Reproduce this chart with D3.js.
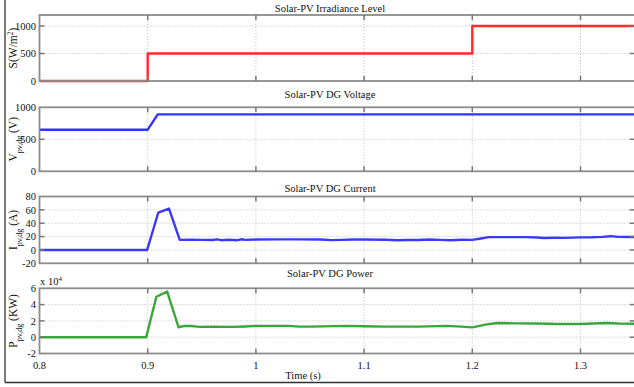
<!DOCTYPE html>
<html><head><meta charset="utf-8">
<script src="https://cdn.jsdelivr.net/npm/d3@7"></script>
<style>
html,body{margin:0;padding:0;background:#fff;}
svg{display:block;font-family:"Liberation Serif","Times New Roman",serif;}
</style></head>
<body>
<svg id="c" width="634" height="387"></svg>
<script>
// ---- Data ----
const xTicks = [0.8, 0.9, 1.0, 1.1, 1.2, 1.3];
const xTickLabels = ["0.8", "0.9", "1", "1.1", "1.2", "1.3"];

const irrTime = [0.8, 0.9, 0.9, 1.2, 1.2, 1.35];
const irrValue = [0, 0, 500, 500, 1000, 1000];
const irrTicks = [0, 500, 1000];

const voltTime = [0.8, 0.9, 0.9093, 1.35];
const voltValue = [650, 650, 890, 890];
const voltTicks = [0, 500, 1000];

const curTime = [0.8, 0.8995, 0.9098, 0.9197, 0.9296, 0.94, 0.95, 0.96, 0.964, 0.968, 0.975, 0.983, 0.987, 0.99, 1.0, 1.02, 1.04, 1.06, 1.07, 1.08, 1.09, 1.1, 1.12, 1.13, 1.14, 1.15, 1.16, 1.17, 1.18, 1.19, 1.2, 1.208, 1.215, 1.23, 1.25, 1.26, 1.266, 1.275, 1.285, 1.3, 1.31, 1.32, 1.328, 1.335, 1.35];
const curValue = [0, 0, 56, 62, 15, 15.3, 15, 14.8, 15.8, 14.6, 15.2, 14.6, 16, 15, 15.6, 15.8, 15.8, 15.6, 14.7, 15, 15.6, 15.6, 15.3, 14.6, 14.8, 14.8, 15.6, 15, 14.5, 15.2, 15, 17.2, 19.2, 19.2, 19.2, 18.6, 17.8, 18.2, 18, 18.8, 19, 19.6, 20.6, 19.6, 19.4];
const curTicks = [-20, 0, 20, 40, 60, 80];

const powTime = [0.8, 0.8986, 0.908, 0.918, 0.9285, 0.934, 0.94, 0.948, 0.96, 0.979, 0.99, 1.0, 1.031, 1.04, 1.05, 1.084, 1.1, 1.12, 1.15, 1.177, 1.19, 1.2, 1.212, 1.223, 1.24, 1.26, 1.28, 1.3, 1.324, 1.335, 1.35];
const powValue = [0, 0, 4.96, 5.6, 1.22, 1.39, 1.38, 1.27, 1.28, 1.27, 1.32, 1.39, 1.39, 1.3, 1.3, 1.39, 1.35, 1.3, 1.3, 1.39, 1.3, 1.2, 1.55, 1.75, 1.7, 1.68, 1.62, 1.62, 1.75, 1.68, 1.65];
const powTicks = [-2, 0, 2, 4, 6];

const titles = ["Solar-PV Irradiance Level", "Solar-PV DG Voltage", "Solar-PV DG Current", "Solar-PV DG Power"];
const colors = ["#ff2a2a", "#3333ff", "#3a3aff", "#3aa63a"];

// ---- Layout ----
const svg = d3.select("#c");
const W = 634, H = 387;
const x = d3.scaleLinear().domain([0.8, 1.35]).range([39.5, 634.6]);

const panels = [
  {t: irrTime, v: irrValue, ticks: irrTicks, dom: [0, 1200], top: 15, bot: 81, title: titles[0], color: colors[0], tb: 11.5, lab: "S"},
  {t: voltTime, v: voltValue, ticks: voltTicks, dom: [0, 1000], top: 107.3, bot: 171.3, title: titles[1], color: colors[1], tb: 98, lab: "V"},
  {t: curTime, v: curValue, ticks: curTicks, dom: [-20, 80], top: 196.5, bot: 263.3, title: titles[2], color: colors[2], tb: 192, lab: "I"},
  {t: powTime, v: powValue, ticks: powTicks, dom: [-2, 6], top: 288.3, bot: 353.5, title: titles[3], color: colors[3], tb: 277, lab: "P"}
];

// outer frame
svg.append("line").attr("x1", 5).attr("x2", 5).attr("y1", 0).attr("y2", 382.5).attr("stroke", "#333").attr("stroke-width", 1.3);
svg.append("line").attr("x1", 5).attr("x2", W).attr("y1", 382.5).attr("y2", 382.5).attr("stroke", "#333").attr("stroke-width", 1.3);

panels.forEach((p, i) => {
  const y = d3.scaleLinear().domain(p.dom).range([p.bot, p.top]);
  const g = svg.append("g");
  const x0 = x.range()[0], x1 = x.range()[1];

  // grid
  g.selectAll(".vg").data(xTicks.slice(1)).join("line")
    .attr("x1", d => x(d)).attr("x2", d => x(d)).attr("y1", p.top).attr("y2", p.bot)
    .attr("stroke", "#bdbdbd").attr("stroke-width", 1).attr("stroke-dasharray", "1,2");
  g.selectAll(".hg").data(p.ticks.filter(d => d > p.dom[0] && d < p.dom[1])).join("line")
    .attr("x1", x0).attr("x2", x1).attr("y1", d => y(d)).attr("y2", d => y(d))
    .attr("stroke", "#bdbdbd").attr("stroke-width", 1).attr("stroke-dasharray", "1,2");

  // data line
  const line = d3.line().x((d, k) => x(p.t[k])).y(d => y(d));
  g.append("path").datum(p.v).attr("d", line).attr("fill", "none")
    .attr("stroke", p.color).attr("stroke-width", 2.4).attr("stroke-linejoin", "round");

  // box
  g.append("rect").attr("x", x0).attr("y", p.top).attr("width", x1 - x0 + 2).attr("height", p.bot - p.top)
    .attr("fill", "none").attr("stroke", "#8c8c8c").attr("stroke-width", 1.8);

  // ticks x (top and bottom, inward)
  g.selectAll(".xtb").data(xTicks.slice(1)).join("line")
    .attr("x1", d => x(d)).attr("x2", d => x(d)).attr("y1", p.bot).attr("y2", p.bot - 5)
    .attr("stroke", "#777").attr("stroke-width", 1.5);
  g.selectAll(".xtt").data(xTicks.slice(1)).join("line")
    .attr("x1", d => x(d)).attr("x2", d => x(d)).attr("y1", p.top).attr("y2", p.top + 5)
    .attr("stroke", "#777").attr("stroke-width", 1.5);
  // ticks y (left and right, inward)
  const yt = p.ticks.filter(d => d > p.dom[0] && d < p.dom[1]);
  g.selectAll(".ytl").data(yt).join("line")
    .attr("x1", x0).attr("x2", x0 + 5).attr("y1", d => y(d)).attr("y2", d => y(d))
    .attr("stroke", "#777").attr("stroke-width", 1.5);
  g.selectAll(".ytr").data(yt).join("line")
    .attr("x1", x1 - 5).attr("x2", x1).attr("y1", d => y(d)).attr("y2", d => y(d))
    .attr("stroke", "#777").attr("stroke-width", 1.5);

  // y tick labels
  g.selectAll(".yl").data(p.ticks).join("text")
    .attr("x", 36).attr("y", d => y(d)).attr("dy", "0.35em")
    .attr("text-anchor", "end").attr("font-size", 10.5).attr("fill", "#111")
    .text(d => d);

  // title
  g.append("text").attr("x", 330).attr("y", p.tb).attr("text-anchor", "middle")
    .attr("font-size", 10.5).attr("fill", "#111").text(p.title);

  // y label
  const cy = (p.top + p.bot) / 2;
  const lab = g.append("text").attr("transform", `translate(17,${cy}) rotate(-90)`)
    .attr("text-anchor", "middle").attr("font-size", 11.5).attr("fill", "#111");
  if (p.lab === "S") {
    lab.append("tspan").text("S(W/m");
    lab.append("tspan").attr("baseline-shift", "super").attr("font-size", 7.5).text("2");
    lab.append("tspan").text(")");
  } else {
    const unit = {V: " (V)", I: " (A)", P: " (KW)"}[p.lab];
    lab.append("tspan").text(p.lab);
    lab.append("tspan").attr("baseline-shift", "sub").attr("font-size", 8).text("pv,dg");
    lab.append("tspan").text(unit);
  }
  if (p.lab === "P") {
    const e = g.append("text").attr("x", 40).attr("y", 285).attr("font-size", 10.5).attr("fill", "#111");
    e.append("tspan").text("x 10");
    e.append("tspan").attr("baseline-shift", "super").attr("font-size", 7).text("4");
  }
  if (i === panels.length - 1) {
    g.selectAll(".xl").data(xTicks).join("text")
      .attr("x", d => x(d)).attr("y", 369).attr("text-anchor", "middle")
      .attr("font-size", 10.5).attr("fill", "#111")
      .text((d, k) => xTickLabels[k]);
    g.append("text").attr("x", 303).attr("y", 378.5).attr("text-anchor", "middle")
      .attr("font-size", 10.5).attr("fill", "#111").text("Time (s)");
  }
});
</script>
</body></html>
